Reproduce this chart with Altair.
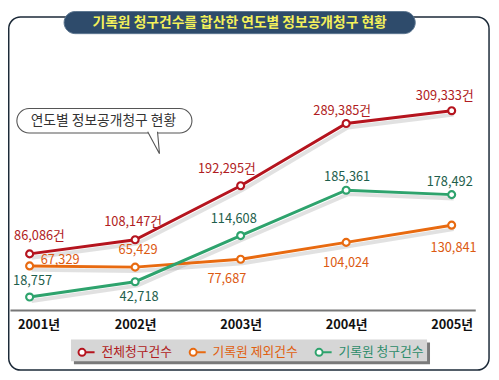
import altair as alt
import pandas as pd

# ---------------- data ----------------
years = ["2001년", "2002년", "2003년", "2004년", "2005년"]
series_names = ["전체청구건수", "기록원 제외건수", "기록원 청구건수"]
total_requests = [86086, 108147, 192295, 289385, 309333]
excluded_requests = [67329, 65429, 77687, 104024, 130841]
archive_requests = [18757, 42718, 114608, 185361, 178492]
unit_suffix = ["건", "", ""]
title_text = "기록원 청구건수를 합산한 연도별 정보공개청구 현황"
bubble_text = "연도별 정보공개청구 현황"

# ---------------- styles ----------------
FONT = "Noto Sans CJK KR"
line_colors = ["#b5141e", "#e86a10", "#2ea36d"]
label_colors = ["#b01c22", "#dc5a12", "#1e5e4c"]
legend_text_colors = ["#b01c22", "#e0600f", "#2e8c6a"]
label_offsets = [  # (dx, dy) in px, per series, per year
    [(10, -18), (-2, -18), (-14, -17), (-4, -13), (-7, -15)],
    [(31, -6), (3, -17), (-14, 20), (0, 21), (2, 23)],
    [(3, -16), (4, 16), (-7, -17), (1, -13), (-2, -13)],
]

W, H = 473, 244

rows = []
for si, (name, vals) in enumerate(zip(series_names, [total_requests, excluded_requests, archive_requests])):
    for yi, (yr, v) in enumerate(zip(years, vals)):
        rows.append({"year": yr, "series": name, "value": v,
                     "label": f"{v:,}{unit_suffix[si]}", "si": si, "yi": yi})
df = pd.DataFrame(rows)

X = alt.X("year:N", sort=years,
          scale=alt.Scale(type="point", padding=0.205, align=0.4545),
          axis=alt.Axis(title=None, labelAngle=0, ticks=False, tickSize=0, grid=False,
                        domainColor="#777777", domainWidth=2, zindex=1,
                        labelFont=FONT, labelFontSize=13, labelFontWeight="bold",
                        labelColor="#111111", labelPadding=9,
                        labelOffset={"expr": "datum.value === '%s' ? 9 : 0" % years[0]}))
Y = alt.Y("value:Q", scale=alt.Scale(domain=[-1534, 372700], nice=False, zero=False), axis=None)

color_expr = ("datum.value === '%s' ? '%s' : datum.value === '%s' ? '%s' : '%s'"
              % (series_names[0], legend_text_colors[0], series_names[1], legend_text_colors[1],
                 legend_text_colors[2]))

legend = alt.Legend(orient="none", legendX=68, legendY=277, direction="horizontal", title=None,
                    symbolType="M-0.92,0A0.42,0.42 0 1,0 -0.08,0A0.42,0.42 0 1,0 -0.92,0M-0.08,0L1,0",
                    symbolSize=289, symbolStrokeWidth=2, symbolFillColor="#ffffff",
                    labelFont=FONT, labelFontSize=13, labelOffset=6, columnPadding=13,
                    padding=0, labelLimit=300, labelColor={"expr": color_expr})

STROKE = alt.Stroke("series:N", sort=series_names,
                    scale=alt.Scale(domain=series_names, range=line_colors), legend=legend)

one = pd.DataFrame({"k": [0]})
deco = alt.Chart(one)


def box(x1, x2, y1, y2, **kw):
    return deco.mark_rect(**kw).encode(x=alt.value(x1), x2=alt.value(x2),
                                       y=alt.value(y1), y2=alt.value(y2))


layers = []
# outer rounded frame
layers.append(box(-1.25, 487, -54, 305, fill="white", fillOpacity=0, stroke="#1c2a38",
                  strokeWidth=1.5, cornerRadius=12))
# title pill
layers.append(box(55, 412, -59.5, -37, fill="#2e4b6b", stroke="#5d7690", strokeWidth=1,
                  cornerRadius=11.5))
layers.append(deco.mark_text(text=title_text, font=FONT, fontSize=14, fontWeight="bold",
                             color="#f4f15a", align="center", baseline="middle")
              .encode(x=alt.value(233.5), y=alt.value(-48)))
# speech bubble
layers.append(box(7, 185, 39, 64, fill="white", stroke="#555555", strokeWidth=1.1,
                  cornerRadius=12.5))
layers.append(deco.mark_point(shape="M-0.571,-1.12L0.571,1L0.381,-1.12", size=441, filled=True,
                              fill="white", stroke="#555555", strokeWidth=1.1, opacity=1)
              .encode(x=alt.value(146), y=alt.value(74.5)))
layers.append(deco.mark_text(text=bubble_text, font=FONT, fontSize=14, color="#333333",
                             align="center", baseline="middle")
              .encode(x=alt.value(95), y=alt.value(51.5)))
# legend box with shadow
layers.append(box(65, 427, 277, 299, fill="#7a7a7a"))
layers.append(box(62, 424, 274, 296, fill="#d6d6d6"))

base = alt.Chart(df)
# line shadows
layers.append(base.mark_line(strokeWidth=4, color="#9a9a9a", opacity=0.3, xOffset=2, yOffset=4)
              .encode(x=X, y=Y, detail="series:N"))
layers.append(base.mark_line(strokeWidth=3).encode(x=X, y=Y, stroke=STROKE))
layers.append(base.mark_point(filled=True, fill="white", size=50, strokeWidth=2.2, opacity=1)
              .encode(x=X, y=Y, stroke=STROKE))

for r in rows:
    dx, dy = label_offsets[r["si"]][r["yi"]]
    layers.append(alt.Chart(pd.DataFrame([r]))
                  .mark_text(font=FONT, fontSize=13, color=label_colors[r["si"]], dx=dx, dy=dy,
                             align="center", baseline="middle")
                  .encode(x=X, y=Y, text="label:N"))

chart = (alt.layer(*layers)
         .properties(width=W, height=H,
                     padding={"left": 2, "top": 60, "right": 16, "bottom": 68},
                     autosize=alt.AutoSizeParams(type="none"), background="white")
         .configure_view(stroke=None))

chart.save("out.html", embed_options={"renderer": "svg", "actions": False})
